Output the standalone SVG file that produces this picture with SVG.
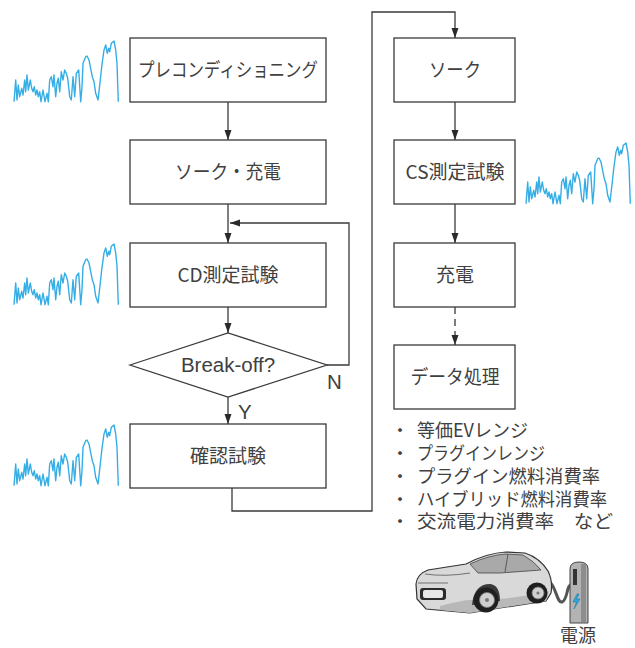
<svg xmlns="http://www.w3.org/2000/svg" xmlns:xlink="http://www.w3.org/1999/xlink" width="635" height="648" viewBox="0 0 635 648">
  <style>
    .box { fill: #ffffff; stroke: #3a3a3a; stroke-width: 1.3; }
    .lbl { font-family: "Noto Sans CJK JP", "Noto Sans", sans-serif; font-size: 19px; fill: #404040; text-anchor: middle; }
    .lat { font-family: "Liberation Sans", Arial, sans-serif; font-size: 20.5px; fill: #404040; }
    .item { font-family: "Noto Sans CJK JP", "Noto Sans", sans-serif; font-size: 18px; fill: #404040; }
    .wire { fill: none; stroke: #3a3a3a; stroke-width: 1.3; }
    .wave { fill: none; stroke: #35aee6; stroke-width: 1.4; stroke-linejoin: round; }
  </style>
  <defs>
    <marker id="arrow" viewBox="0 0 10 10" refX="10" refY="5" markerWidth="10" markerHeight="10" markerUnits="userSpaceOnUse" orient="auto">
      <path d="M0,1.5 L10,5 L0,8.5 Z" fill="#2a2a2a"/>
    </marker>
    <!-- driving-cycle speed trace -->
    <path id="trace" class="wave" d="M0,60.7 L1.7,39 L3,59 L4.3,44 L5.7,55.7 L7.7,47.3 L9,54 L10.7,39 L11.7,50.7 L13,34 L14.3,49 L16.3,39 L17.7,47.3 L19,50.7 L20.3,45.7 L21.7,54 L23,49 L24.3,55.7 L25.7,50.7 L27,60.7 L29,49 L31,60.7 L33,52.3 L34.3,60.7 L35.7,39 L37.3,35.7 L39,45.7 L40,34 L41.7,55.7 L43,42.3 L44.3,37.3 L45.7,50.7 L47.3,30.7 L49,39 L50.7,29 L52.3,32.3 L53.7,37.3 L55.7,55.7 L57.3,59 L59,35.7 L60.7,55.7 L62.3,32.3 L64.7,29 L66.7,60.7 L68,45.7 L69,22.3 L71.7,15.7 L73,15 L75,19 L76.3,25.7 L78.3,35.7 L80,40.7 L81.7,52.3 L84,59 L86.3,39 L87.7,25.7 L90,9 L91.7,4 L93.3,12.3 L94.7,7.3 L95.7,10.7 L97.3,2.3 L100,0 L101.7,9 L103,22.3 L104.3,60.7"/>
  </defs>

  <!-- speed traces beside the test phases -->
  <g id="traces">
    <use xlink:href="#trace" href="#trace" transform="translate(14,41)"/>
    <use xlink:href="#trace" href="#trace" transform="translate(14,244)"/>
    <use xlink:href="#trace" href="#trace" transform="translate(14,425)"/>
    <use xlink:href="#trace" href="#trace" transform="translate(526,143)"/>
  </g>

  <!-- connectors -->
  <g id="connectors">
    <line class="wire" x1="228" y1="102" x2="228" y2="140" marker-end="url(#arrow)"/>
    <line class="wire" x1="228" y1="204" x2="228" y2="243" marker-end="url(#arrow)"/>
    <line class="wire" x1="228" y1="307" x2="228" y2="333" marker-end="url(#arrow)"/>
    <line class="wire" x1="228" y1="397" x2="228" y2="424" marker-end="url(#arrow)"/>
    <polyline class="wire" points="327,365 349,365 349,223 230,223" marker-end="url(#arrow)"/>
    <polyline class="wire" points="232,488 232,511 372,511 372,12 455,12 455,38" marker-end="url(#arrow)"/>
    <line class="wire" x1="455" y1="102" x2="455" y2="140" marker-end="url(#arrow)"/>
    <line class="wire" x1="455" y1="204" x2="455" y2="243" marker-end="url(#arrow)"/>
    <line class="wire" x1="455" y1="307" x2="455" y2="345" stroke-dasharray="7,5" marker-end="url(#arrow)"/>
    <text class="lat" x="327" y="389">N</text>
    <text class="lat" x="238" y="419">Y</text>
  </g>

  <!-- left column -->
  <g id="precondition">
    <rect class="box" x="130" y="38" width="196" height="64"/>
    <text class="lbl" x="228" y="77" textLength="180" lengthAdjust="spacingAndGlyphs">プレコンディショニング</text>
  </g>
  <g id="soak-charge">
    <rect class="box" x="130" y="140" width="196" height="64"/>
    <text class="lbl" x="228" y="179" textLength="106" lengthAdjust="spacingAndGlyphs">ソーク・充電</text>
  </g>
  <g id="cd-test">
    <rect class="box" x="130" y="243" width="196" height="64"/>
    <text class="lbl" x="228" y="282">CD測定試験</text>
  </g>
  <g id="break-off">
    <polygon class="box" points="130,365 228,333 327,365 228,397"/>
    <text class="lat" x="228" y="372" text-anchor="middle">Break-off?</text>
  </g>
  <g id="confirm-test">
    <rect class="box" x="130" y="424" width="196" height="64"/>
    <text class="lbl" x="228" y="463">確認試験</text>
  </g>

  <!-- right column -->
  <g id="soak">
    <rect class="box" x="394" y="38" width="121" height="64"/>
    <text class="lbl" x="455" y="77" textLength="52" lengthAdjust="spacingAndGlyphs">ソーク</text>
  </g>
  <g id="cs-test">
    <rect class="box" x="394" y="140" width="121" height="64"/>
    <text class="lbl" x="455" y="179">CS測定試験</text>
  </g>
  <g id="charge">
    <rect class="box" x="394" y="243" width="121" height="64"/>
    <text class="lbl" x="455" y="282">充電</text>
  </g>
  <g id="data-processing">
    <rect class="box" x="394" y="345" width="121" height="64"/>
    <text class="lbl" x="455" y="384" textLength="89" lengthAdjust="spacingAndGlyphs">データ処理</text>
  </g>

  <!-- results list -->
  <g id="results">
    <text class="item">
      <tspan x="391" y="437">・</tspan><tspan x="417" y="437">等価EVレンジ</tspan>
      <tspan x="391" y="460">・</tspan><tspan x="417" y="460" textLength="128" lengthAdjust="spacingAndGlyphs">プラグインレンジ</tspan>
      <tspan x="391" y="483">・</tspan><tspan x="417" y="483" textLength="183" lengthAdjust="spacingAndGlyphs">プラグイン燃料消費率</tspan>
      <tspan x="391" y="506">・</tspan><tspan x="417" y="506" textLength="190" lengthAdjust="spacingAndGlyphs">ハイブリッド燃料消費率</tspan>
      <tspan x="391" y="528">・</tspan><tspan x="417" y="528" textLength="196" lengthAdjust="spacingAndGlyphs">交流電力消費率　など</tspan>
    </text>
  </g>

  <!-- plug-in car connected to charger -->
  <g id="car-charger">
    <!-- cable -->
    <path d="M543,580 C556,578 556,604 562,602 C568,600 566,585 572,584" fill="none" stroke="#555" stroke-width="3"/>
    <!-- body -->
    <path d="M417,599 L416,584 Q417,574 428,570 L466,564 Q487,553 506,552 L525,553 Q540,558 548,571 Q553,581 551,593 L546,601 L500,608 L470,613 L426,609 Z" fill="#d9d9d9" stroke="#333" stroke-width="1.2"/>
    <!-- lower side shading -->
    <path d="M440,606 Q470,597 500,599 Q525,597 549,591 L546,601 L500,608 L470,613 L440,610 Z" fill="#b8b8b8"/>
    <!-- windows -->
    <path d="M470,564 Q489,555 506,554 L523,555 Q534,561 541,570 L500,573 L478,573 Z" fill="#a9a9a9" stroke="#444" stroke-width="0.8"/>
    <line x1="508" y1="554" x2="505" y2="572" stroke="#444" stroke-width="0.8"/>
    <!-- hood line and grille -->
    <path d="M425,574 Q445,577 470,573" fill="none" stroke="#555" stroke-width="0.8"/>
    <rect x="420" y="588" width="26" height="12" rx="3" fill="#2b2b2b"/>
    <rect x="423" y="590" width="20" height="8" rx="2" fill="#e8e8e8"/>
    <path d="M418,583 L448,583" stroke="#555" stroke-width="0.8"/>
    <!-- wheel arches and wheels -->
    <path d="M472,605 Q474,584 490,584 Q500,585 500,601 Z" fill="#3a3a3a"/>
    <circle cx="486" cy="600" r="12.5" fill="#1f1f1f"/>
    <circle cx="487" cy="600" r="7.5" fill="#cfcfcf" stroke="#777" stroke-width="0.8"/>
    <circle cx="487" cy="600" r="2" fill="#777"/>
    <circle cx="537" cy="593" r="10.5" fill="#1f1f1f"/>
    <circle cx="538" cy="593" r="6" fill="#cfcfcf" stroke="#777" stroke-width="0.8"/>
    <circle cx="538" cy="593" r="1.6" fill="#777"/>
    <!-- charging post -->
    <path d="M570,623 L570,569 Q570,562 579,562 Q588,562 588,569 L588,623 Z" fill="#b3b3b3" stroke="#444" stroke-width="1"/>
    <rect x="581" y="564" width="5" height="58" fill="#8d8d8d"/>
    <rect x="573" y="569" width="4" height="16" fill="#333"/>
    <path d="M577,594 L573,602 L576.5,602 L574,609 L580,599 L576.5,599 L579,594 Z" fill="#2aa8e2" stroke="#1b6f9a" stroke-width="0.5"/>
    <text class="item" x="560" y="642" font-size="17">電源</text>
  </g>
</svg>
